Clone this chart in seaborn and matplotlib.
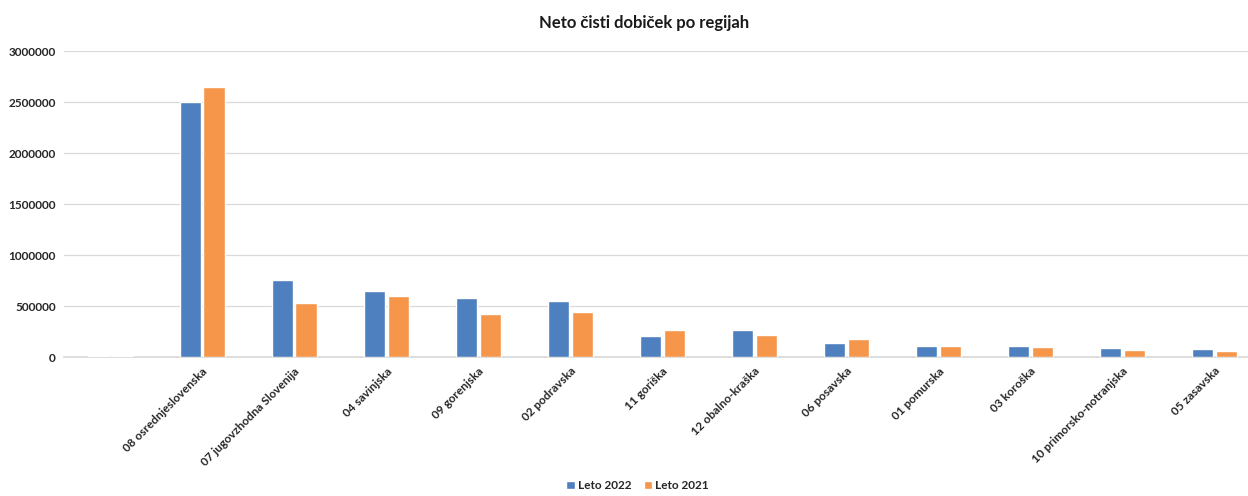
import numpy as np
import pandas as pd
import matplotlib.pyplot as plt
import seaborn as sns

regije = [" ", "08 osrednjeslovenska", "07 jugovzhodna Slovenija", "04 savinjska",
          "09 gorenjska", "02 podravska", "11 goriška", "12 obalno-kraška",
          "06 posavska", "01 pomurska", "03 koroška", "10 primorsko-notranjska",
          "05 zasavska"]
leto_2022 = [13000, 2505000, 755000, 653000, 581000, 552000, 204000, 265000,
             140000, 111000, 111000, 88000, 78000]
leto_2021 = [13000, 2648000, 532000, 604000, 418000, 441000, 265000, 216000,
             173000, 111000, 101000, 69000, 59000]
serije = ["Leto 2022", "Leto 2021"]
barve = ["#4E7FBE", "#F5964A"]

df = pd.DataFrame({
    "Regija": regije * 2,
    "Vrednost": leto_2022 + leto_2021,
    "Leto": [serije[0]] * len(regije) + [serije[1]] * len(regije),
})

sns.set_theme(style="white")
plt.rcParams["font.family"] = ["Lato", "DejaVu Sans"]

fig = plt.figure(figsize=(12.48, 4.96), dpi=100)
# plot area runs a little past the right edge, like the cropped original
ax = fig.add_axes([0.0513, 0.28, 0.9585, 0.617])

sns.barplot(data=df, x="Regija", y="Vrednost", hue="Leto", order=regije,
            hue_order=serije, palette=barve, width=0.52, gap=0.12,
            saturation=1, ax=ax, legend=True, zorder=3)

ax.set_ylim(0, 3000000)
ax.set_yticks(np.arange(0, 3000001, 500000))
ax.set_yticklabels([f"{int(v)}" for v in np.arange(0, 3000001, 500000)],
                   fontsize=8.5, fontweight="bold", color="#262626")
ax.set_xlim(-0.5, len(regije) - 0.5)
ax.set_xticks(range(len(regije)))
ax.set_xticklabels(regije, rotation=45, ha="right", rotation_mode="anchor",
                   fontsize=8.5, fontweight="bold", color="#262626")
ax.tick_params(axis="both", length=0, pad=6)
ax.grid(axis="y", color="#D9D9D9", linewidth=0.9, zorder=0)
ax.set_axisbelow(True)
for s in ["top", "right", "left"]:
    ax.spines[s].set_visible(False)
ax.spines["bottom"].set_color("#D9D9D9")
ax.spines["bottom"].set_zorder(1)
ax.set_xlabel("")
ax.set_ylabel("")

fig.suptitle("Neto čisti dobiček po regijah", fontsize=12, fontweight="bold",
             color="#1a1a1a", x=0.516, y=0.97)

handles, labels = ax.get_legend_handles_labels()
ax.legend_.remove()
fig.legend(handles, labels, loc="lower center", bbox_to_anchor=(0.511, -0.012),
           ncol=2, frameon=False, handlelength=0.7, handleheight=0.7,
           columnspacing=1.0, handletextpad=0.3,
           prop={"weight": "bold", "size": 8.5})

fig.savefig("out.png", dpi=100, facecolor="white")
